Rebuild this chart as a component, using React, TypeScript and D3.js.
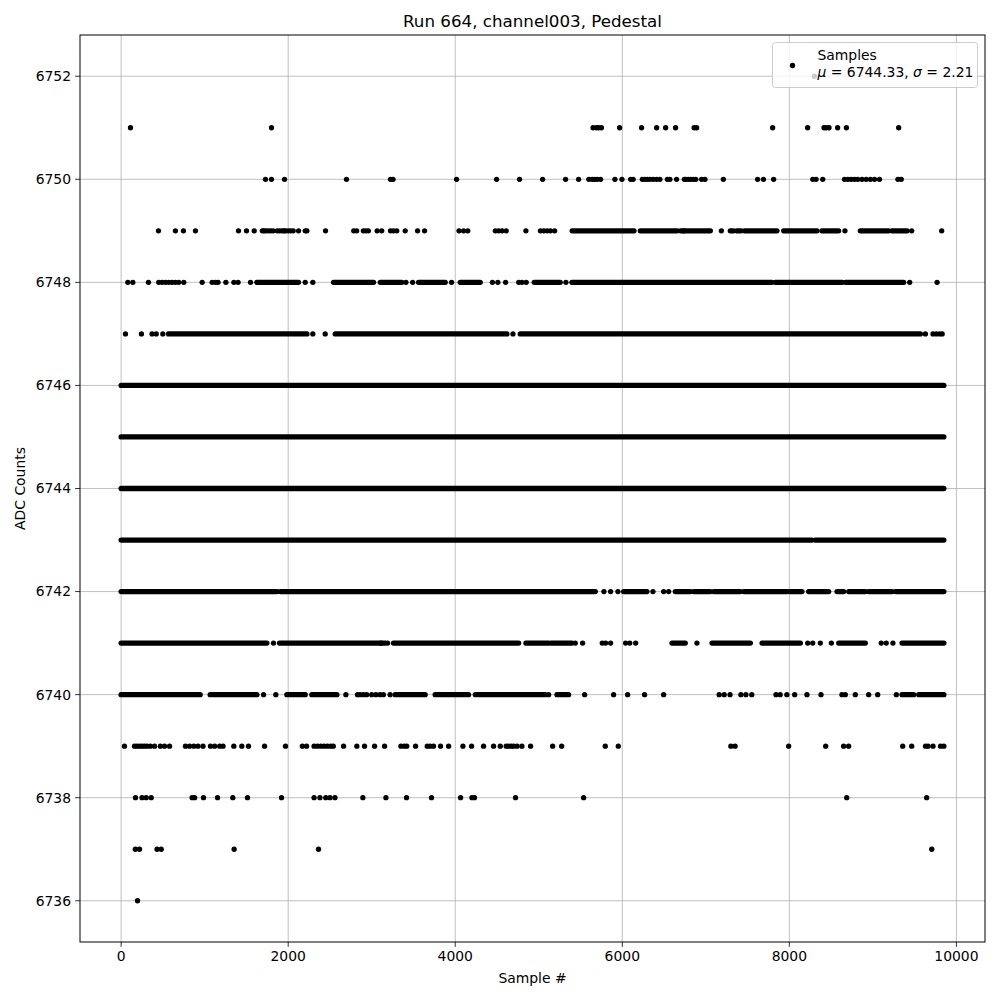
import React from 'react';
import * as d3 from 'd3';

// Pedestal samples, one ADC level per array.
// "samples" = isolated samples (sample #), "runs" = stretches where the level is hit almost every sample.
const xTicks = [0, 2000, 4000, 6000, 8000, 10000];
const yTicks = [6736, 6738, 6740, 6742, 6744, 6746, 6748, 6750, 6752];

const samples6752 = [8300];
const samples6751 = [112, 1800, 5650, 5690, 5720, 5750, 5968, 6231, 6411, 6519, 6638, 6860, 6890, 7800, 8219, 8415, 8440, 8475, 8578, 8683, 9309];
const samples6750 = [1728, 1800, 1956, 2698, 3225, 3255, 4016, 4495, 4770, 5046, 5321, 5477, 5600, 5640, 5670, 5700, 5740, 5912, 5996, 6100, 6130, 6240, 6270, 6300, 6330, 6370, 6410, 6450, 6540, 6570, 6650, 6743, 6760, 6790, 6820, 6850, 6880, 6950, 6990, 7210, 7620, 7690, 7812, 8280, 8320, 8400, 8660, 8700, 8740, 8780, 8820, 8870, 8920, 8970, 9020, 9080, 9300, 9340];
const samples6749 = [447, 650, 746, 890, 1405, 1501, 1593, 1690, 1710, 1730, 1760, 1790, 1820, 1870, 1900, 1930, 1950, 1970, 2000, 2030, 2060, 2124, 2204, 2224, 2447, 2785, 2820, 2900, 2930, 2960, 3065, 3120, 3225, 3260, 3300, 3401, 3549, 3633, 4045, 4100, 4150, 4480, 4520, 4560, 4610, 4846, 5020, 5060, 5100, 5140, 5190, 6734, 7186, 8666, 9465, 9824];
const runs6749 = [[5400, 6140], [6216, 6655], [6695, 7054], [7293, 7330], [7370, 7420], [7460, 7852], [7932, 8331], [8391, 8590], [8850, 9189], [9229, 9409]];
const samples6748 = [80, 140, 327, 450, 490, 530, 570, 610, 650, 690, 750, 970, 1090, 1130, 1160, 1254, 1350, 1400, 1549, 2204, 2295, 3410, 3490, 3956, 4445, 4510, 4603, 4760, 4800, 4850, 5325, 9441, 9769];
const runs6748 = [[1625, 2124], [2543, 3022], [3102, 3361], [3561, 3880], [4060, 4299], [4946, 5257], [5397, 7792], [7832, 8631], [8671, 9369]];
const samples6747 = [52, 243, 370, 420, 499, 2295, 2443, 4691, 9629, 9720, 9760, 9800, 9830];
const runs6747 = [[567, 2224], [2563, 4619], [4778, 9569]];
const runs6746 = [[0, 9850]];
const runs6745 = [[0, 9850]];
const runs6744 = [[0, 9850]];
const runs6743 = [[0, 8270], [8310, 9850]];
const samples6742 = [5780, 5860, 5948, 6367, 6495, 6555];
const runs6742 = [[0, 1865], [1904, 5677], [6016, 6295], [6635, 6814], [6854, 7054], [7094, 7413], [7453, 7972], [8000, 8151], [8231, 8471], [8571, 8651], [8711, 8910], [8950, 9229], [9269, 9850]];
const samples6741 = [1824, 3110, 3190, 5437, 5525, 5760, 5800, 5860, 6040, 6090, 6160, 6894, 8220, 8280, 8371, 8503, 9100, 9160, 9240];
const runs6741 = [[0, 1745], [1896, 3162], [3261, 4759], [4846, 5118], [5146, 5397], [6595, 6754], [7074, 7533], [7673, 8132], [8591, 8910], [9349, 9850]];
const samples6740 = [1705, 1852, 2691, 2830, 2860, 2900, 2940, 3000, 3050, 3100, 3140, 3220, 5118, 5549, 5896, 6064, 6267, 6495, 7160, 7220, 7290, 7420, 7480, 7550, 7840, 7890, 7970, 8064, 8211, 8379, 8630, 8670, 8790, 8950, 9058, 9281];
const runs6740 = [[0, 946], [1066, 1625], [1984, 2204], [2283, 2583], [3281, 3640], [3760, 4160], [4240, 5078], [5218, 5357], [9349, 9489], [9549, 9850]];
const samples6739 = [40, 160, 190, 220, 250, 280, 310, 350, 400, 470, 520, 580, 770, 820, 870, 920, 980, 1070, 1120, 1180, 1220, 1349, 1445, 1525, 1717, 1968, 2170, 2220, 2310, 2350, 2390, 2430, 2470, 2510, 2540, 2663, 2822, 2914, 3034, 3154, 3350, 3390, 3420, 3525, 3665, 3700, 3740, 3824, 3921, 4092, 4196, 4339, 4459, 4539, 4610, 4640, 4670, 4700, 4740, 4798, 4902, 5166, 5274, 5796, 5952, 7300, 7350, 7992, 8435, 8650, 8710, 9357, 9465, 9630, 9660, 9720, 9810, 9850];
const samples6738 = [172, 250, 300, 360, 850, 880, 986, 1154, 1337, 1513, 1920, 2310, 2380, 2450, 2500, 2560, 2894, 3170, 3417, 3716, 4064, 4200, 4230, 4722, 5537, 8687, 9644];
const samples6737 = [170, 220, 430, 480, 1353, 2363, 9705];
const samples6736 = [196];

const pointRows = [
  { adc: 6752, samples: samples6752 },
  { adc: 6751, samples: samples6751 },
  { adc: 6750, samples: samples6750 },
  { adc: 6749, samples: samples6749 },
  { adc: 6748, samples: samples6748 },
  { adc: 6747, samples: samples6747 },
  { adc: 6742, samples: samples6742 },
  { adc: 6741, samples: samples6741 },
  { adc: 6740, samples: samples6740 },
  { adc: 6739, samples: samples6739 },
  { adc: 6738, samples: samples6738 },
  { adc: 6737, samples: samples6737 },
  { adc: 6736, samples: samples6736 },
];
const runRows = [
  { adc: 6749, runs: runs6749 },
  { adc: 6748, runs: runs6748 },
  { adc: 6747, runs: runs6747 },
  { adc: 6746, runs: runs6746 },
  { adc: 6745, runs: runs6745 },
  { adc: 6744, runs: runs6744 },
  { adc: 6743, runs: runs6743 },
  { adc: 6742, runs: runs6742 },
  { adc: 6741, runs: runs6741 },
  { adc: 6740, runs: runs6740 },
];

const W = 1000;
const H = 1000;
const margin = { top: 35, right: 15, bottom: 58, left: 80 };
const font = 'DejaVu Sans, sans-serif';
const R = 2.65;

const App = () => {
  const innerW = W - margin.left - margin.right;
  const innerH = H - margin.top - margin.bottom;

  const x = d3.scaleLinear().domain([-492.5, 10342.5]).range([0, innerW]);
  const y = d3.scaleLinear().domain([6735.2, 6752.8]).range([innerH, 0]);

  return (
    <svg width={W} height={H} style={{ position: 'absolute', left: 0, top: 0, background: '#fff' }} fontFamily={font}>
      <rect width={W} height={H} fill="#fff" />
      <text x={margin.left + innerW / 2} y={27} textAnchor="middle" fontSize={16.7}>
        Run 664, channel003, Pedestal
      </text>
      <g transform={`translate(${margin.left},${margin.top})`}>
        {/* grid */}
        {xTicks.map((t) => (
          <line key={'gx' + t} x1={x(t)} x2={x(t)} y1={0} y2={innerH} stroke="#b0b0b0" strokeWidth={0.8} />
        ))}
        {yTicks.map((t) => (
          <line key={'gy' + t} x1={0} x2={innerW} y1={y(t)} y2={y(t)} stroke="#b0b0b0" strokeWidth={0.8} />
        ))}

        {/* dense stretches */}
        {runRows.map((row) =>
          row.runs.map(([a, b], i) => (
            <rect
              key={`r${row.adc}-${i}`}
              x={x(a) - R}
              y={y(row.adc) - R}
              width={x(b) - x(a) + 2 * R}
              height={2 * R}
              rx={R}
              fill="#000"
            />
          ))
        )}
        {/* isolated samples */}
        {pointRows.map((row) =>
          row.samples.map((s, i) => (
            <circle key={`p${row.adc}-${i}`} cx={x(s)} cy={y(row.adc)} r={R} fill="#000" />
          ))
        )}

        {/* frame */}
        <rect x={0} y={0} width={innerW} height={innerH} fill="none" stroke="#000" strokeWidth={1} />

        {/* x axis */}
        {xTicks.map((t) => (
          <g key={'xt' + t} transform={`translate(${x(t)},${innerH})`}>
            <line y2={4.9} stroke="#000" strokeWidth={0.8} />
            <text y={19} textAnchor="middle" fontSize={13.9}>
              {t}
            </text>
          </g>
        ))}
        <text x={innerW / 2} y={innerH + 41} textAnchor="middle" fontSize={13.9}>
          Sample #
        </text>

        {/* y axis */}
        {yTicks.map((t) => (
          <g key={'yt' + t} transform={`translate(0,${y(t)})`}>
            <line x2={-4.9} stroke="#000" strokeWidth={0.8} />
            <text x={-9} dy="0.35em" textAnchor="end" fontSize={13.9}>
              {t}
            </text>
          </g>
        ))}
        <text transform={`translate(${-55},${innerH / 2}) rotate(-90)`} textAnchor="middle" fontSize={13.9}>
          ADC Counts
        </text>
      </g>

      {/* legend */}
      <g transform="translate(772.5,42.5)">
        <rect width={205} height={45} rx={3} fill="#fff" fillOpacity={0.8} stroke="#cccccc" strokeWidth={1} />
        <circle cx={20} cy={23} r={R} fill="#000" />
        <text x={45} y={17} fontSize={13.9}>Samples</text>
        <text x={45} y={34} fontSize={13.9}>
          <tspan fontStyle="italic">μ</tspan> = 6744.33, <tspan fontStyle="italic">σ</tspan> = 2.21
        </text>
      </g>
    </svg>
  );
};

export default App;
